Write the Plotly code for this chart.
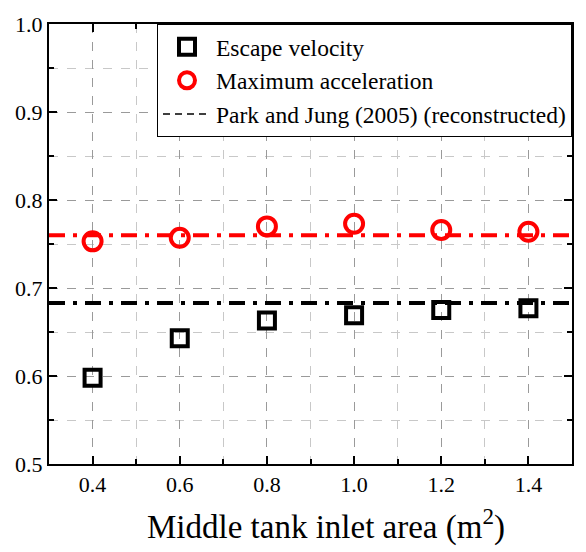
import plotly.graph_objects as go

# Middle tank inlet area (m^2)
inlet_area = [0.4, 0.6, 0.8, 1.0, 1.2, 1.4]

# Normalised results for each inlet area
escape_velocity = [0.598, 0.643, 0.663, 0.669, 0.675, 0.677]
max_acceleration = [0.753, 0.757, 0.770, 0.773, 0.766, 0.764]

# Reference levels, Park and Jung (2005) (reconstructed)
ref_x = [0.3, 1.5]
ref_escape_level = 0.683
ref_accel_level = 0.760

FONT = "Liberation Serif"
DASHDOT = "16px,8px,4px,8px"

fig = go.Figure()

# Horizontal reference levels
fig.add_trace(go.Scatter(
    x=ref_x, y=[ref_accel_level] * len(ref_x), mode="lines",
    line=dict(color="red", width=4, dash=DASHDOT),
    showlegend=False, hoverinfo="skip",
))
fig.add_trace(go.Scatter(
    x=ref_x, y=[ref_escape_level] * len(ref_x), mode="lines",
    line=dict(color="black", width=4, dash=DASHDOT),
    showlegend=False, hoverinfo="skip",
))

fig.add_trace(go.Scatter(
    x=inlet_area, y=escape_velocity, mode="markers", name="Escape velocity",
    marker=dict(symbol="square-open", size=16, color="black",
                line=dict(width=4, color="black")),
))
fig.add_trace(go.Scatter(
    x=inlet_area, y=max_acceleration, mode="markers", name="Maximum acceleration",
    marker=dict(symbol="circle-open", size=18, color="red",
                line=dict(width=4, color="red")),
))
# Legend-only entry for the reference study
fig.add_trace(go.Scatter(
    x=[None], y=[None], mode="lines", name="Park and Jung (2005) (reconstructed)",
    line=dict(color="black", width=1.5, dash="7px,5px"),
))

axis_common = dict(
    showline=True, linecolor="black", linewidth=2, mirror="ticks",
    ticks="inside", ticklen=8, tickwidth=2, tickcolor="black",
    showgrid=True, gridcolor="#9a9a9a", gridwidth=1, griddash="dash",
    zeroline=False,
    tickfont=dict(family=FONT, size=22, color="black"),
)

fig.update_xaxes(
    range=[0.3, 1.5], tick0=0.4, dtick=0.2, tickformat=".1f",
    minor=dict(dtick=0.1, tick0=0.3, ticks="inside", ticklen=5, tickwidth=2,
               tickcolor="black", showgrid=True, gridcolor="#c8c8c8",
               griddash="dash", gridwidth=1),
    **axis_common,
)
fig.update_yaxes(
    range=[0.5, 1.0], tick0=0.5, dtick=0.1, tickformat=".1f",
    minor=dict(dtick=0.05, tick0=0.5, ticks="inside", ticklen=5, tickwidth=2,
               tickcolor="black", showgrid=True, gridcolor="#c8c8c8",
               griddash="dash", gridwidth=1),
    **axis_common,
)

# x-axis title, placed as an annotation below the tick labels
fig.add_annotation(
    text="Middle tank inlet area (m<sup>2</sup>)",
    xref="paper", yref="paper", x=0.5, y=0, xanchor="center", yanchor="top",
    xshift=15, yshift=-37, showarrow=False,
    font=dict(family=FONT, size=33, color="black"),
)

fig.update_layout(
    width=586, height=552,
    margin=dict(l=49, r=13, t=18, b=88),
    paper_bgcolor="white", plot_bgcolor="white",
    font=dict(family=FONT, color="black"),
    legend=dict(
        x=1, y=1, xanchor="right", yanchor="top",
        bgcolor="white", bordercolor="black", borderwidth=1,
        font=dict(family=FONT, size=23.5, color="black"),
        tracegroupgap=0, itemwidth=48,
    ),
)

fig.write_html("out.html")
